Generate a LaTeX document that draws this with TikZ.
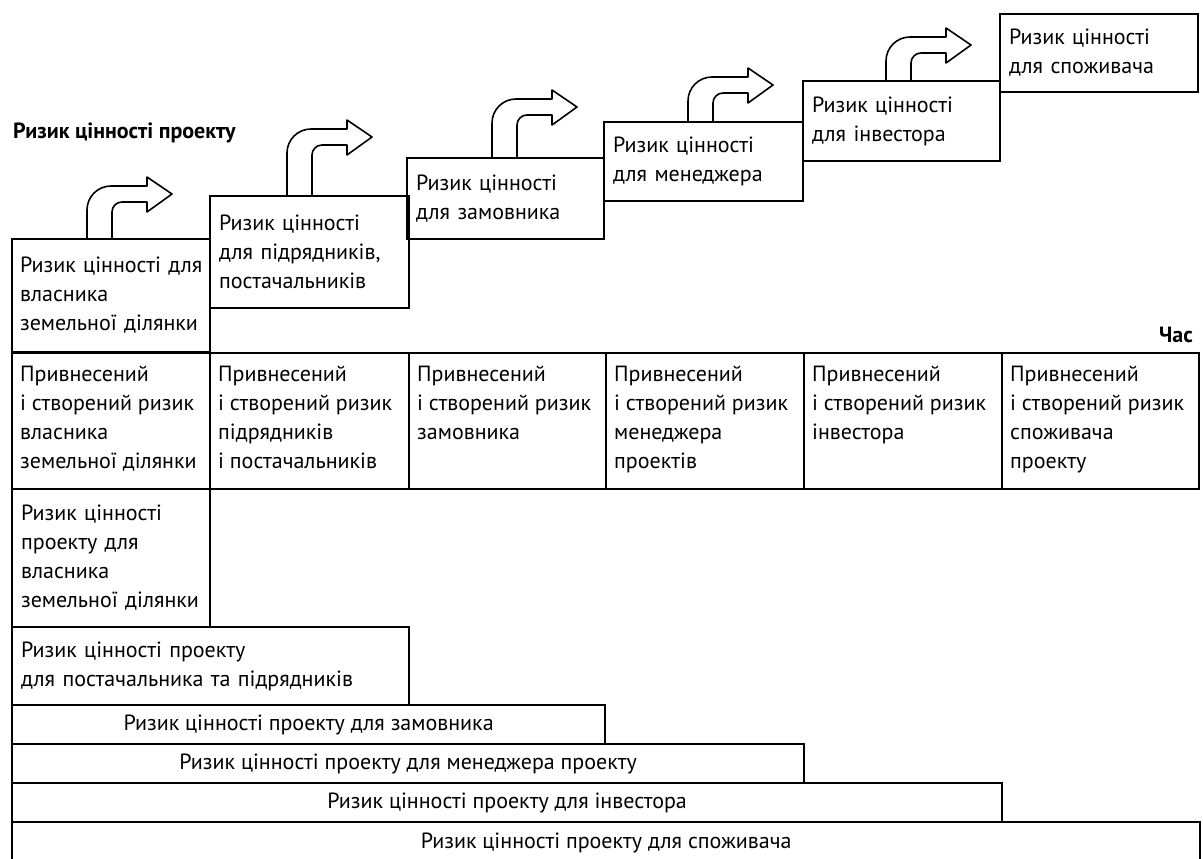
\documentclass[tikz,border=0pt]{standalone}
\usepackage{fontspec}
\setmainfont{PT Sans}

\tikzset{
  riskbox/.style={draw, line width=2.2pt, inner sep=0pt, anchor=north west, align=left,
    font=\fontsize{22}{29}\selectfont},
  rowbox/.style={draw, line width=2.2pt, inner sep=0pt, anchor=north west, align=center,
    font=\fontsize{22}{29}\selectfont},
  celltext/.style={anchor=north west, inner sep=0pt, align=left,
    font=\fontsize{22}{29}\selectfont},
  turnarrow/.style={line width=1.6pt, line join=round},
  headtext/.style={font=\bfseries\fontsize{22}{26}\selectfont, inner sep=0pt}
}

\begin{document}
\begin{tikzpicture}[x=1pt, y=-1pt]
	\useasboundingbox (0,0) rectangle (1203,859);
	
	% steps of the value risk
	\node [riskbox, minimum width=198pt, minimum height=113pt, text width=182pt] (own) at (11,238) {\mbox{Ризик цінності для}\\власника\\земельної ділянки};
	\node [riskbox, minimum width=199pt, minimum height=112pt, text width=181pt] (sub) at (209,195) {Ризик цінності\\для підрядників,\\постачальників};
	\node [riskbox, minimum width=197pt, minimum height=81pt, text width=179pt] (cust) at (406,157) {Ризик цінності\\для замовника};
	\node [riskbox, minimum width=199pt, minimum height=79pt, text width=181pt] (man) at (603,121) {Ризик цінності\\для менеджера};
	\node [riskbox, minimum width=197pt, minimum height=80pt, text width=179pt] (inv) at (802,80) {Ризик цінності\\для інвестора};
	\node [riskbox, minimum width=198pt, minimum height=78pt, text width=180pt] (cons) at (999,13) {Ризик цінності\\для споживача};
	
	% turning arrows on the steps
	\foreach \ax/\ay/\ah in {87/238/0, 287/195/14, 492/157/6, 688/121/-8, 886/80/-9} {
		\begin{scope}[shift={(\ax,\ay)}]
			\draw [turnarrow] (0,0) -- (0,-28-\ah) arc [start angle=180, end angle=270, radius=24]
				-- (60,-52-\ah) -- (60,-61-\ah) -- (85,-44-\ah) -- (60,-26-\ah) -- (60,-36-\ah)
				-- (35,-36-\ah) arc [start angle=270, end angle=180, radius=10] -- (25,0);
		\end{scope}
	}
	
	\node [headtext, anchor=west] (title) at (13,133) {Ризик цінності проекту};
	\node [headtext, anchor=east] (time) at (1193,335) {Час};
	
	% brought-in and created risk
	\node [riskbox, minimum width=198pt, minimum height=136pt] (c1) at (11,352) {};
	\node [riskbox, minimum width=199pt, minimum height=136pt] (c2) at (209,352) {};
	\node [riskbox, minimum width=197pt, minimum height=136pt] (c3) at (408,352) {};
	\node [riskbox, minimum width=198pt, minimum height=136pt] (c4) at (605,352) {};
	\node [riskbox, minimum width=198pt, minimum height=136pt] (c5) at (803,352) {};
	\node [riskbox, minimum width=197pt, minimum height=136pt] (c6) at (1001,352) {};
	
	\node [celltext] (t1) at ([xshift=9pt, yshift=-14pt] c1.north west) {Привнесений\\і створений ризик\\власника\\земельної ділянки};
	\node [celltext] (t2) at ([xshift=9pt, yshift=-14pt] c2.north west) {Привнесений\\і створений ризик\\підрядників\\і постачальників};
	\node [celltext] (t3) at ([xshift=9pt, yshift=-14pt] c3.north west) {Привнесений\\і створений ризик\\замовника};
	\node [celltext] (t4) at ([xshift=9pt, yshift=-14pt] c4.north west) {Привнесений\\і створений ризик\\менеджера\\проектів};
	\node [celltext] (t5) at ([xshift=9pt, yshift=-14pt] c5.north west) {Привнесений\\і створений ризик\\інвестора};
	\node [celltext] (t6) at ([xshift=9pt, yshift=-14pt] c6.north west) {Привнесений\\і створений ризик\\споживача\\проекту};
	
	% project value risk for each party
	\node [riskbox, minimum width=198pt, minimum height=138pt, text width=180pt] (r1) at (11,488) {Ризик цінності\\проекту для\\власника\\земельної ділянки};
	\node [riskbox, minimum width=397pt, minimum height=78pt, text width=379pt] (r2) at (11,626) {Ризик цінності проекту\\для постачальника та підрядників};
	\node [rowbox, minimum width=593pt, minimum height=39pt] (r3) at (11,704) {Ризик цінності проекту для замовника};
	\node [rowbox, minimum width=792pt, minimum height=39pt] (r4) at (11,743) {Ризик цінності проекту для менеджера проекту};
	\node [rowbox, minimum width=990pt, minimum height=39pt] (r5) at (11,782) {Ризик цінності проекту для інвестора};
	\node [rowbox, minimum width=1188pt, minimum height=41pt] (r6) at (11,821) {Ризик цінності проекту для споживача};
\end{tikzpicture}
\end{document}
